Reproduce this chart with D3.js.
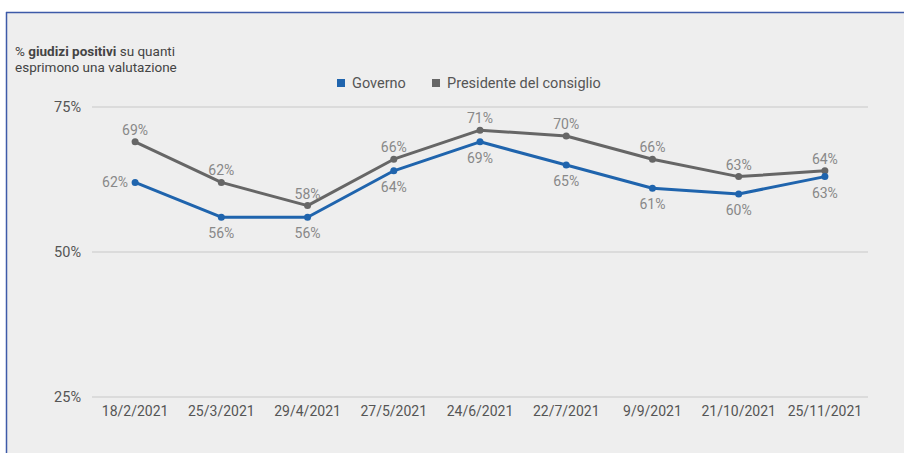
<!DOCTYPE html>
<html><head><meta charset="utf-8">
<script src="https://cdn.jsdelivr.net/npm/d3@7"></script>
<style>
html,body{margin:0;padding:0;background:#fff;}
svg{display:block;}
text{font-family:Roboto, "Noto Sans", sans-serif;}
</style></head>
<body>
<script>
const categories = ["18/2/2021","25/3/2021","29/4/2021","27/5/2021","24/6/2021","22/7/2021","9/9/2021","21/10/2021","25/11/2021"];
const governo = [62,56,56,64,69,65,61,60,63];
const presidente = [69,62,58,66,71,70,66,63,64];
const yTicks = [25,50,75];
const seriesNames = ["Governo","Presidente del consiglio"];
const seriesColors = ["#1f64ad","#666666"];

const W=904,H=453;
const svg=d3.select("body").append("svg").attr("width",W).attr("height",H);
svg.append("rect").attr("x",6).attr("y",12).attr("width",W-6).attr("height",H-12).attr("fill","#eeeeee");
svg.append("line").attr("x1",6).attr("x2",W).attr("y1",12.5).attr("y2",12.5).attr("stroke","#3d5aa8").attr("stroke-width",1.5);
svg.append("line").attr("x1",6.5).attr("x2",6.5).attr("y1",12).attr("y2",H).attr("stroke","#3d5aa8").attr("stroke-width",1.5);

const x=d3.scalePoint().domain(categories).range([92,868]).padding(0.5);
const y=d3.scaleLinear().domain([25,75]).range([397,107]);

// gridlines
svg.append("g").selectAll("line").data(yTicks).join("line")
 .attr("x1",92).attr("x2",868).attr("y1",d=>y(d)).attr("y2",d=>y(d))
 .attr("stroke","#d4d4d4").attr("stroke-width",1.5);
svg.append("g").selectAll("text").data(yTicks).join("text")
 .attr("x",81).attr("y",d=>y(d)+5).attr("text-anchor","end")
 .attr("font-size",14.5).attr("fill","#555").text(d=>d+"%");

// x labels
svg.append("g").selectAll("text").data(categories).join("text")
 .attr("x",d=>x(d)).attr("y",416).attr("text-anchor","middle")
 .attr("font-size",14).attr("fill","#555").text(d=>d);

// title
const t=svg.append("text").attr("x",15).attr("y",56).attr("font-size",13.5).attr("fill","#444");
t.append("tspan").text("% ");
t.append("tspan").attr("font-weight","bold").text("giudizi positivi");
t.append("tspan").text(" su quanti");
svg.append("text").attr("x",15).attr("y",72).attr("font-size",13.5).attr("fill","#444").text("esprimono una valutazione");

// legend
const leg=[{x:337,name:seriesNames[0],c:seriesColors[0]},{x:432,name:seriesNames[1],c:seriesColors[1]}];
leg.forEach(l=>{
 svg.append("rect").attr("x",l.x).attr("y",79).attr("width",8).attr("height",8).attr("fill",l.c);
 svg.append("text").attr("x",l.x+15).attr("y",88).attr("font-size",14.5).attr("fill","#555").text(l.name);
});

const line=d3.line().x((d,i)=>x(categories[i])).y(d=>y(d));
const series=[{v:presidente,c:seriesColors[1],pos:"above"},{v:governo,c:seriesColors[0],pos:"below"}];
series.forEach(s=>{
 svg.append("path").datum(s.v).attr("d",line).attr("fill","none").attr("stroke",s.c).attr("stroke-width",3).attr("stroke-linejoin","round");
 svg.append("g").selectAll("circle").data(s.v).join("circle")
  .attr("cx",(d,i)=>x(categories[i])).attr("cy",d=>y(d)).attr("r",3.5).attr("fill",s.c);
 svg.append("g").selectAll("text").data(s.v).join("text")
  .attr("x",(d,i)=> (s.pos==="below"&&i===0)? x(categories[i])-7 : x(categories[i]))
  .attr("y",(d,i)=> (s.pos==="below"&&i===0)? y(d)+5 : (s.pos==="above"? y(d)-7 : y(d)+21))
  .attr("text-anchor",(d,i)=>(s.pos==="below"&&i===0)?"end":"middle")
  .attr("font-size",14).attr("fill","#888").text(d=>d+"%");
});
</script>
</body></html>
